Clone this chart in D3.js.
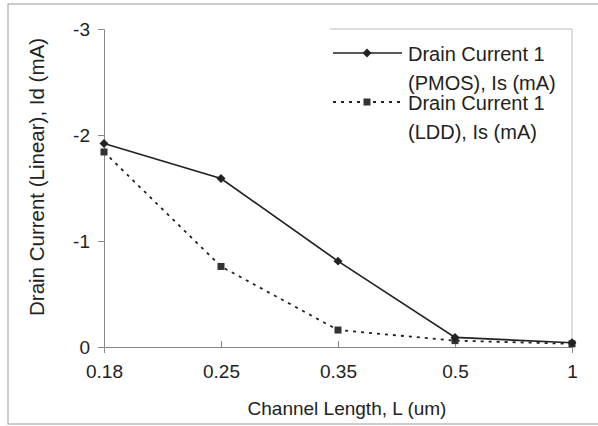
<!DOCTYPE html>
<html>
<head>
<meta charset="utf-8">
<script src="https://cdn.jsdelivr.net/npm/d3@7"></script>
<style>
  body { margin: 0; background: white; }
  text { font-family: "Liberation Sans", Arial, sans-serif; fill: #222; }
</style>
</head>
<body>
<div class="chart"></div>
<script>
var lengths = ["0.18", "0.25", "0.35", "0.5", "1"];
var pmos = [-1.92, -1.59, -0.81, -0.09, -0.04];
var ldd = [-1.84, -0.76, -0.16, -0.06, -0.03];
var yTicks = [0, -1, -2, -3];

var svg = d3.select(".chart")
            .append("svg")
            .attr("width", 598)
            .attr("height", 426)
            .style("background-color", "white");

// outer frame
svg.append("rect")
   .attr("x", 8)
   .attr("y", 4)
   .attr("width", 620)
   .attr("height", 420)
   .attr("fill", "none")
   .attr("stroke", "#999")
   .attr("stroke-width", 1);

var x = d3.scalePoint().domain(lengths).range([104, 572]);
var y = d3.scaleLinear().domain([0, -3]).range([347, 29]);

// plot area border (top + right, faint)
svg.append("path")
   .attr("d", "M" + 330 + "," + y(-3) + "H" + x("1") + "V" + y(0))
   .attr("fill", "none")
   .attr("stroke", "#bbb")
   .attr("stroke-width", 1);

// y axis
var yAxis = d3.axisLeft(y).tickValues(yTicks).tickSize(6).tickPadding(8)
              .tickFormat(function(d) { return d === 0 ? "0" : "-" + Math.abs(d); });
var gy = svg.append("g").attr("transform", "translate(104,0)").call(yAxis)
            .attr("font-size", 19).attr("font-family", "Liberation Sans, Arial, sans-serif");
gy.select(".domain").attr("stroke", "#888");
gy.selectAll(".tick line").attr("stroke", "#888");
gy.selectAll("text").attr("fill", "#222");

// x axis
var xAxis = d3.axisBottom(x).tickSize(6).tickPadding(12);
var gx = svg.append("g").attr("transform", "translate(0,347)").call(xAxis)
            .attr("font-size", 19).attr("font-family", "Liberation Sans, Arial, sans-serif");
gx.select(".domain").attr("stroke", "#888");
gx.selectAll(".tick line").attr("stroke", "#888").attr("y1", -6).attr("y2", 0);
gx.selectAll("text").attr("fill", "#222");

// axis titles
svg.append("text")
   .attr("text-anchor", "middle")
   .attr("x", 347)
   .attr("y", 415)
   .text("Channel Length, L (um)")
   .style("font-size", "19px");
svg.append("text")
   .attr("text-anchor", "middle")
   .attr("transform", "translate(44,177) rotate(-90)")
   .text("Drain Current (Linear), Id (mA)")
   .style("font-size", "20.5px");

var line = d3.line()
             .x(function(d, i) { return x(lengths[i]); })
             .y(function(d) { return y(d); });

var diamond = d3.symbol().type(d3.symbolSquare).size(40);

// LDD series, dotted with squares
svg.append("path")
   .datum(ldd)
   .attr("d", line)
   .attr("fill", "none")
   .attr("stroke", "#222")
   .attr("stroke-width", 1.8)
   .attr("stroke-dasharray", "3,5");
svg.selectAll(".sq")
   .data(ldd)
   .enter().append("rect")
   .attr("x", function(d, i) { return x(lengths[i]) - 3.5; })
   .attr("y", function(d) { return y(d) - 3.5; })
   .attr("width", 7)
   .attr("height", 7)
   .attr("fill", "#333");

// PMOS series, solid with diamonds
svg.append("path")
   .datum(pmos)
   .attr("d", line)
   .attr("fill", "none")
   .attr("stroke", "#222")
   .attr("stroke-width", 1.7);
svg.selectAll(".dm")
   .data(pmos)
   .enter().append("path")
   .attr("d", diamond)
   .attr("transform", function(d, i) { return "translate(" + x(lengths[i]) + "," + y(d) + ") rotate(45)"; })
   .attr("fill", "#222");

// legend
svg.append("line")
   .attr("x1", 333).attr("y1", 53).attr("x2", 402).attr("y2", 53)
   .attr("stroke", "#222").attr("stroke-width", 1.7);
svg.append("path")
   .attr("d", diamond)
   .attr("transform", "translate(367,53) rotate(45)")
   .attr("fill", "#222");
svg.append("line")
   .attr("x1", 333).attr("y1", 102).attr("x2", 402).attr("y2", 102)
   .attr("stroke", "#222").attr("stroke-width", 1.8)
   .attr("stroke-dasharray", "3,5");
svg.append("rect")
   .attr("x", 363.5).attr("y", 98.5).attr("width", 7).attr("height", 7)
   .attr("fill", "#333");

var legendText = [["Drain Current 1", "(PMOS), Is (mA)"], ["Drain Current 1", "(LDD), Is (mA)"]];
for (i = 0; i < 2; i++) {
  for (j = 0; j < 2; j++) {
    svg.append("text")
       .attr("x", 408)
       .attr("y", 61 + i * 49 + j * 29)
       .text(legendText[i][j])
       .style("font-size", "20px");
  }
}
</script>
</body>
</html>
